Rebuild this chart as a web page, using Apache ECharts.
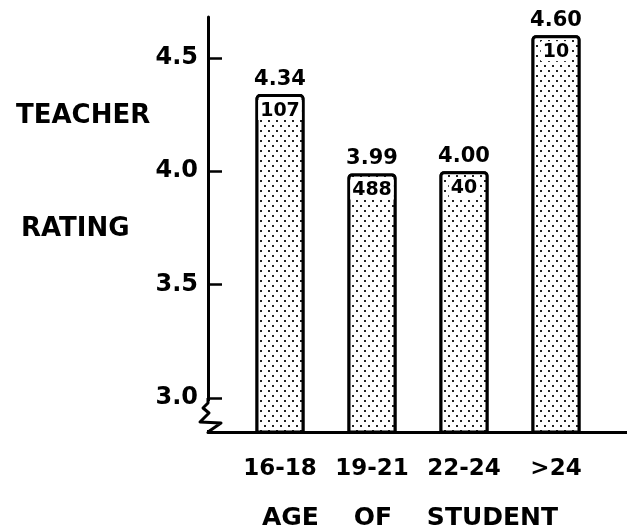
<!DOCTYPE html>
<html>
<head>
<meta charset="utf-8">
<script src="https://cdn.jsdelivr.net/npm/echarts@6/dist/echarts.min.js"></script>
<style>html,body{margin:0;padding:0;background:#fff}#c{width:627px;height:529px}</style>
</head>
<body>
<div id="c"></div>
<script>
const categories = ['16-18', '19-21', '22-24', '>24'];
const ratings = [4.34, 3.99, 4.00, 4.60];
const counts = [107, 488, 40, 10];
const yTicks = [3.0, 3.5, 4.0, 4.5];

const FONT = 'DejaVu Sans';
const chart = echarts.init(document.getElementById('c'), null, {renderer: 'canvas'});

const dotDecal = {
  symbol: 'rect',
  symbolSize: 1,
  color: '#222',
  backgroundColor: '#fff',
  dashArrayX: [[1.7, 5.3], [0, 3.5, 1.7, 1.8]],
  dashArrayY: [1.7, 2.8],
  rotation: 0
};

chart.setOption({
  animation: false,
  backgroundColor: '#fff',
  title: [
    {text: 'TEACHER', left: 11, top: 98, textStyle: {fontFamily: FONT, fontWeight: 'bold', fontSize: 26, color: '#000'}},
    {text: 'RATING', left: 16, top: 211, textStyle: {fontFamily: FONT, fontWeight: 'bold', fontSize: 26, color: '#000'}}
  ],
  grid: [
    {left: 234, right: 25, top: 17, bottom: 97, outerBoundsMode: 'none', containLabel: false},
    {left: 208, right: 0, top: 17, bottom: 97, outerBoundsMode: 'none', containLabel: false}
  ],
  xAxis: [
    {
      type: 'category', gridIndex: 0, data: categories,
      axisLine: {show: false}, axisTick: {show: false},
      axisLabel: {interval: 0, hideOverlap: false, margin: 26, fontFamily: FONT, fontWeight: 'bold', fontSize: 23, color: '#000'},
      name: 'AGE    OF    STUDENT', nameLocation: 'middle', nameGap: 74,
      nameTextStyle: {fontFamily: FONT, fontWeight: 'bold', fontSize: 25, color: '#000', padding: [0, 16, 0, 0]}
    },
    {
      type: 'value', gridIndex: 1, min: 0, max: 1,
      axisLine: {show: true, lineStyle: {color: '#000', width: 3}},
      axisTick: {show: false}, axisLabel: {show: false}, splitLine: {show: false}
    }
  ],
  yAxis: [
    {
      type: 'value', gridIndex: 0, min: 2.85, max: 4.68, offset: 26,
      axisLine: {show: true, lineStyle: {color: '#000', width: 3}},
      axisTick: {show: true, inside: true, length: 14, customValues: yTicks, lineStyle: {color: '#000', width: 2.5}},
      axisLabel: {customValues: yTicks, margin: 10, formatter: v => v.toFixed(1), fontFamily: FONT, fontWeight: 'bold', fontSize: 24, color: '#000'},
      splitLine: {show: false}
    },
    {type: 'value', gridIndex: 1, show: false, min: 0, max: 1}
  ],
  series: [
    {
      type: 'bar', xAxisIndex: 0, yAxisIndex: 0, data: ratings, barWidth: 49,
      itemStyle: {color: '#fff', borderColor: '#000', borderWidth: 3, borderRadius: [3, 3, 0, 0], decal: dotDecal},
      label: {show: true, position: 'top', distance: 4, formatter: p => p.value.toFixed(2),
        fontFamily: FONT, fontWeight: 'bold', fontSize: 21, color: '#000'}
    },
    {
      type: 'bar', xAxisIndex: 0, yAxisIndex: 0, data: ratings, barWidth: 49, barGap: '-100%',
      itemStyle: {color: 'rgba(0,0,0,0)', borderWidth: 0},
      label: {show: true, position: 'insideTop', distance: 6, formatter: p => String(counts[p.dataIndex]),
        backgroundColor: '#fff', padding: [1, 2, 0, 2],
        fontFamily: FONT, fontWeight: 'bold', fontSize: 19, color: '#000'}
    }
  ],
  graphic: [
    {type: 'rect', shape: {x: 205, y: 401, width: 6, height: 29}, style: {fill: '#fff'}, z: 100},
    {type: 'polyline', shape: {points: [[208, 398], [208, 403], [203, 408], [209, 413], [200, 422], [221, 423], [208, 432]]},
      style: {stroke: '#000', lineWidth: 3, fill: null, lineJoin: 'round'}, z: 101}
  ]
});
</script>
</body>
</html>
